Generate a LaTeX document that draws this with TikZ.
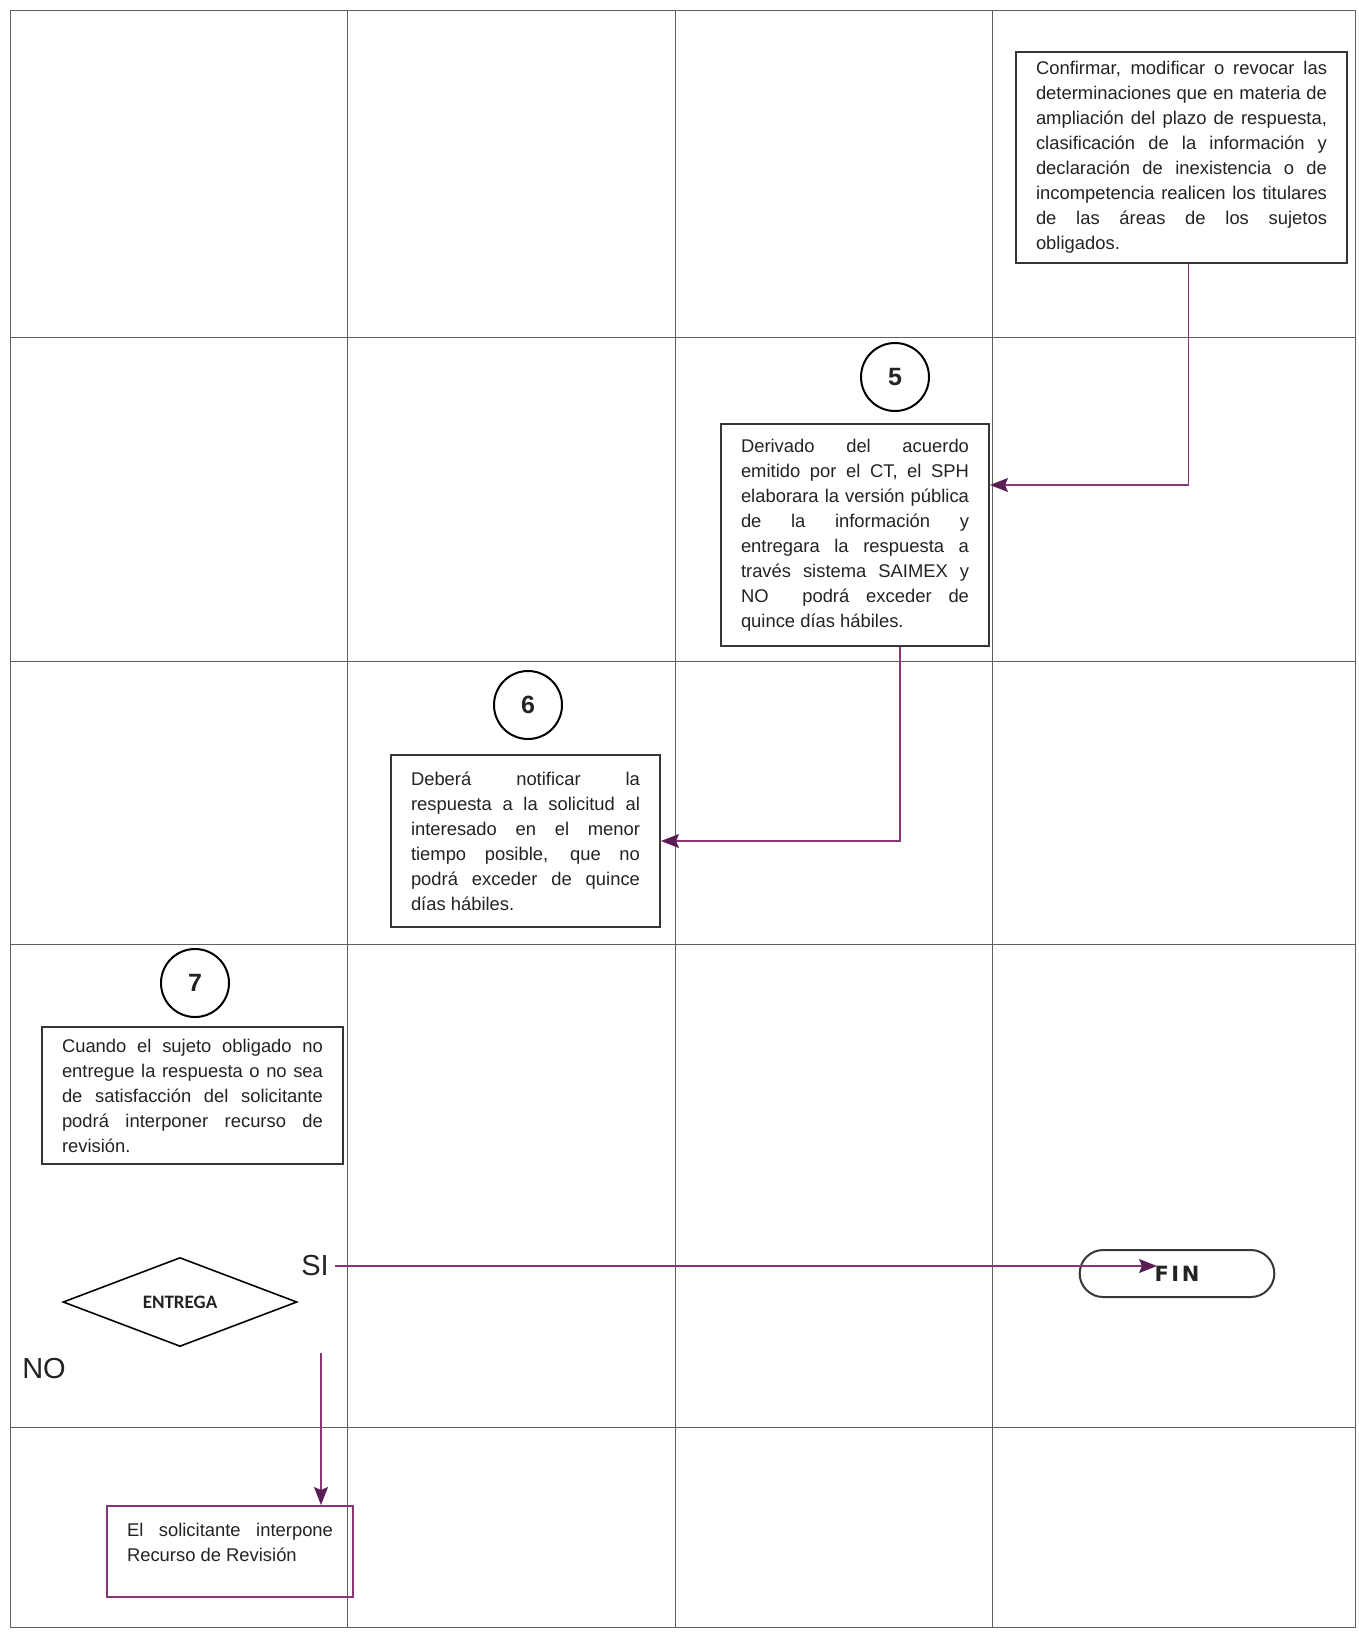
\documentclass[tikz,border=0pt]{standalone}
\usepackage{fontspec}
\setmainfont{Liberation Sans}
\newfontfamily\calibri{Carlito}
\newfontfamily\finfont[LetterSpace=12]{DejaVu Sans}
\usetikzlibrary{shapes.geometric,shapes.misc,arrows.meta,calc}
\definecolor{morado}{RGB}{135,55,120}
\definecolor{moradoosc}{RGB}{90,30,85}
\definecolor{lineagris}{RGB}{95,95,95}
\definecolor{bordegris}{RGB}{55,55,55}
\definecolor{texto}{RGB}{35,35,35}
\begin{document}
\begin{tikzpicture}[
            x=0.5pt, y=-0.5pt,
            font=\fontsize{9.2}{12.5}\selectfont, text=texto,
            grid/.style={draw=lineagris, line width=0.5pt},
            paso/.style={
                rectangle, draw=#1, line width=1pt,
                align=justify, inner xsep=10pt, inner ysep=4pt
            },
            paso/.default=bordegris,
            num/.style={
                circle, draw=black, line width=1pt, minimum size=34pt,
                font=\fontsize{12.5}{14}\selectfont\bfseries, inner sep=0pt
            },
            link/.style={draw=morado, line width=0.6pt,
                -{Stealth[length=9pt, width=7pt, inset=1.5pt, color=moradoosc]}},
            marca/.style={font=\fontsize{14.5}{16}\selectfont, inner sep=3pt}
        ]

        \fill[white] (0,0) rectangle (1359,1634);
        \useasboundingbox (0,0) rectangle (1359,1634);

        % --- Grid ---
        \draw[grid] (10,10) rectangle (1355,1627);
        \foreach \x in {347,675,992} \draw[grid] (\x,10) -- (\x,1627);
        \foreach \y in {337,661,944,1427} \draw[grid] (10,\y) -- (1355,\y);

        % --- Steps ---
        \node[paso, text width=145.5pt, minimum height=105.5pt] (conf) at (1181.5,157)
        {Confirmar, modificar o revocar las\linebreak
         determinaciones que en materia de\linebreak
         ampliación del plazo de respuesta,\linebreak
         clasificación de la información y\linebreak
         declaración de inexistencia o de\linebreak
         incompetencia realicen los titulares\linebreak
         de las áreas de los sujetos\linebreak
         obligados.};

        \node[num] (n5) at (895,377) {5};
        \node[paso, text width=114pt, minimum height=111pt] (der) at (855,535)
        {Derivado del acuerdo\linebreak
         emitido por el CT, el SPH\linebreak
         elaborara la versión pública\linebreak
         de la información y\linebreak
         entregara la respuesta a\linebreak
         través sistema SAIMEX y\linebreak
         NO\ \ podrá exceder de\linebreak
         quince días hábiles.};

        \node[num] (n6) at (528,705) {6};
        \node[paso, text width=114.5pt, minimum height=86pt] (notif) at (525.5,841)
        {Deberá notificar la\linebreak
         respuesta a la solicitud al\linebreak
         interesado en el menor\linebreak
         tiempo posible, que no\linebreak
         podrá exceder de quince\linebreak
         días hábiles.};

        \node[num] (n7) at (195,983) {7};
        \node[paso, text width=130.5pt, minimum height=68.5pt] (cuando) at (192.5,1095.5)
        {Cuando el sujeto obligado no\linebreak
         entregue la respuesta o no sea\linebreak
         de satisfacción del solicitante\linebreak
         podrá interponer recurso de\linebreak
         revisión.};

        % --- Decision ---
        \node[diamond, draw=black, line width=0.8pt, minimum width=117pt, minimum height=44.5pt,
              inner sep=0pt, font=\calibri\bfseries\fontsize{9.5}{10}\selectfont] (entrega) at (180,1302)
        {ENTREGA};
        \node[marca] (si) at (315,1266) {SI};
        \node[marca] (no) at (44,1368) {NO};

        \node[rounded rectangle, draw=bordegris, line width=1pt, minimum width=104pt,
              minimum height=23.5pt, font=\finfont\bfseries\fontsize{10.5}{11}\selectfont] (fin) at (1177,1273.5)
        {FIN};

        \node[paso=morado, text width=103pt, minimum height=45.5pt] (rev) at (230,1551.5)
        {El solicitante interpone\linebreak
         Recurso de Revisión\par\vspace*{9pt}};

        % --- Connectors ---
        \draw[link] ($(conf.south)+(7,0)$) |- ($(der.east)+(0,-50)$);
        \draw[link] ($(der.south)+(45,0)$) |- (notif.east);
        \draw[link] (si.east) -- ($(si.east -| fin.center)+(-20,0)$);
        \coordinate (nofrom) at (321,1353);
        \draw[link] (nofrom) -- (nofrom |- rev.north);

    \end{tikzpicture}
\end{document}
